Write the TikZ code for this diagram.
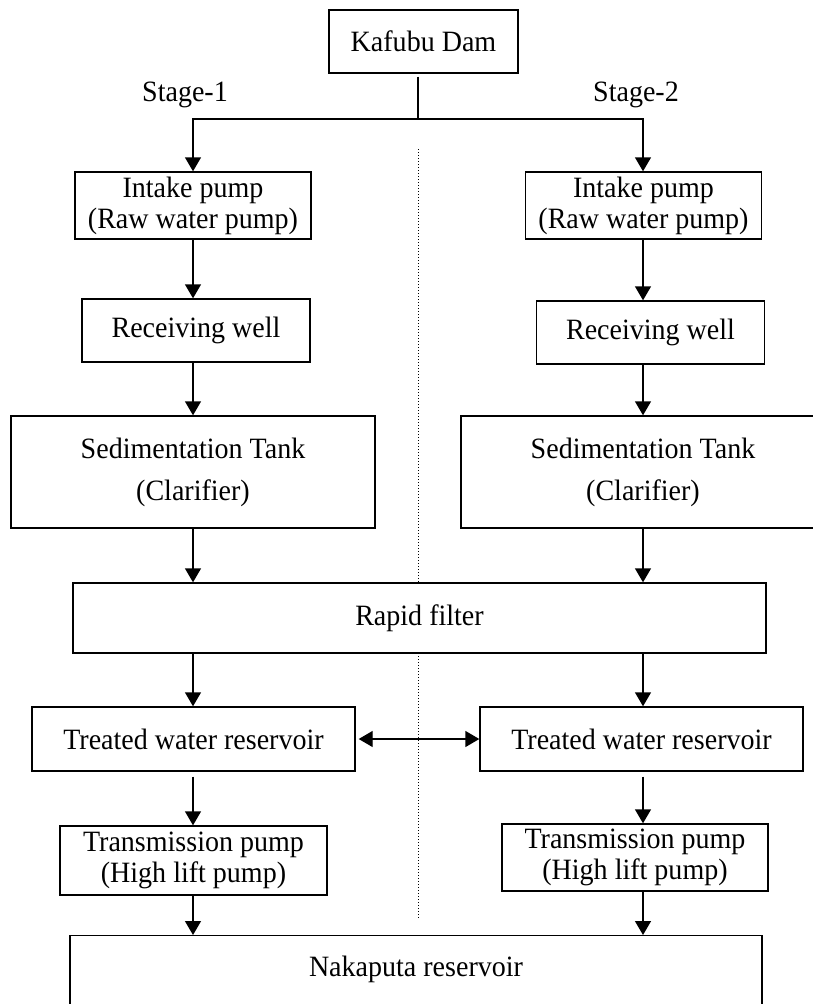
\documentclass[tikz,border=0pt]{standalone}
\usepackage{fontspec}
\setmainfont{Liberation Serif}[FakeStretch=0.95]
\usepackage{tikz}
\usetikzlibrary{positioning,calc,arrows.meta}

\begin{document}
\begin{tikzpicture}[
        x=1pt, y=-1pt,
        % --- CHỮ ---
        every node/.style={font=\fontsize{29.5}{31}\selectfont},
        % --- HỘP ---
        box/.style={
            rectangle,
            draw=black,
            fill=white,
            line width=1.4pt,
            align=center,
            inner sep=0pt
        },
        % --- MŨI TÊN ---
        flow/.style={
            draw=black,
            line width=1.4pt,
            -{Triangle[length=14pt,width=16pt]}
        },
        both/.style={
            draw=black,
            line width=1.4pt,
            {Triangle[length=14pt,width=16pt]}-{Triangle[length=14pt,width=16pt]}
        },
        divider/.style={
            draw=black,
            line width=1pt,
            dash pattern=on 1.2pt off 1.8pt
        }
    ]

        % --- KHUNG ---
        \useasboundingbox (0,0) rectangle (813,1004);
        \fill[white] (0,0) rectangle (813,1004);
        \clip (0,0) rectangle (813,1004);

        % --- TỌA ĐỘ CỘT ---
        \coordinate (colA) at (193,0);
        \coordinate (colB) at (643,0);
        \coordinate (junc) at (418,119);
        \coordinate (divTop) at (418,149);
        \coordinate (divBot) at (418,918);

        % --- ĐƯỜNG CHẤM GIỮA ---
        \draw[divider] (divTop) -- (divBot);

        % --- ĐẬP ---
        \node[box, minimum width=189, minimum height=63] (dam) at (423.5,41.5) {Kafubu Dam};
        \node (stageA) at (185,95) {Stage-1};
        \node (stageB) at (636,95) {Stage-2};

        % --- GIAI ĐOẠN 1 ---
        \node[box, minimum width=236, minimum height=67] (intakeA) at (193,205.5) {Intake pump\\(Raw water pump)};
        \node[box, minimum width=228, minimum height=63] (wellA) at (196,330.5) {Receiving well};
        \node[box, minimum width=364, minimum height=112] (sedA) at (193,472) {Sedimentation Tank\\[11pt](Clarifier)};

        % --- GIAI ĐOẠN 2 ---
        \node[box, minimum width=236, minimum height=67] (intakeB) at (643.5,205.5) {Intake pump\\(Raw water pump)};
        \node[box, minimum width=228, minimum height=63] (wellB) at (650.5,332.5) {Receiving well};
        \node[box, minimum width=364, minimum height=112] (sedB) at (643,472) {Sedimentation Tank\\[11pt](Clarifier)};

        % --- LỌC NHANH ---
        \node[box, minimum width=693, minimum height=70] (filter) at (419.5,618) {Rapid filter};

        % --- BỂ CHỨA & BƠM ---
        \node[box, minimum width=323, minimum height=64] (resA) at (193.5,739) {Treated water reservoir};
        \node[box, minimum width=323, minimum height=64] (resB) at (641.5,739) {Treated water reservoir};
        \node[box, minimum width=267, minimum height=69] (pumpA) at (193.5,860.5) {Transmission pump\\(High lift pump)};
        \node[box, minimum width=266, minimum height=67] (pumpB) at (635,857.5) {Transmission pump\\(High lift pump)};

        % --- HỒ NAKAPUTA ---
        \node[box, minimum width=692, minimum height=120, anchor=north,
              text height=20pt, text depth=58pt] (naka) at (416,935) {Nakaputa reservoir};

        % --- NỐI ---
        \draw[line width=1.4pt] (dam.south -| junc) ++(0,3) -- (junc);
        \draw[flow] (junc) -| (intakeA.north -| colA);
        \draw[flow] (junc) -| (intakeB.north -| colB);

        \foreach \a/\b in {intakeA/wellA, wellA/sedA, sedA/filter, filter/resA, pumpA/naka} {
            \draw[flow] (\a.south -| colA) -- (\b.north -| colA);
        }
        \foreach \a/\b in {intakeB/wellB, wellB/sedB, sedB/filter, filter/resB, pumpB/naka} {
            \draw[flow] (\a.south -| colB) -- (\b.north -| colB);
        }
        \draw[flow, shorten <=5pt] (resA.south -| colA) -- (pumpA.north -| colA);
        \draw[flow, shorten <=5pt] (resB.south -| colB) -- (pumpB.north -| colB);

        \draw[both, shorten <=3pt] (resA.east) -- (resB.west);

    \end{tikzpicture}
\end{document}
